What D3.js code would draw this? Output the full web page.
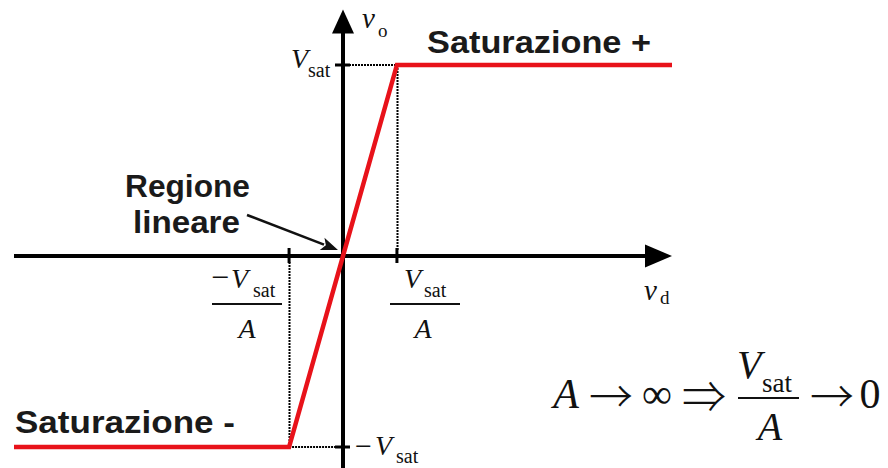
<!DOCTYPE html>
<html>
<head>
<meta charset="utf-8">
<script src="https://cdn.jsdelivr.net/npm/d3@7"></script>
<style>
  html, body { margin: 0; padding: 0; background: #fff; }
  svg { display: block; }
  .bold { font-family: "Liberation Sans", Arial, sans-serif; font-weight: bold; fill: #1a1a1a; }
  .math { font-family: "Liberation Serif", "Times New Roman", serif; fill: #111; }
  .sym { font-family: "Noto Sans CJK JP", "DejaVu Serif", serif; fill: #111; font-weight: 300; }
  .it { font-style: italic; }
</style>
</head>
<body>
<svg id="chart" width="888" height="468"></svg>
<script>
// Transfer characteristic of an op-amp: v_o versus v_d (v_d in units of Vsat/A, v_o in units of Vsat)
const vd = [-6.1, -1, 1, 6.1];
const vo = [-1, -1, 1, 1];
// Tick positions on both axes
const xTicks = [-1, 1];
const yTicks = [-1, 1];
// Axis extents (same units as the data)
const xExtent = [-6.1, 6.1];
const yExtent = [-1.11, 1.29];

const svg = d3.select("#chart");

const x = d3.scaleLinear().domain([-6.1, 6.1]).range([14, 672]);
const y = d3.scaleLinear().domain([-1, 1]).range([447, 65]);

const x0 = x(0), y0 = y(0);
const px = v => Math.round(v) + 0.5;

// dotted guide lines from the corners of the characteristic to the axes
function dotted(x1, y1, x2, y2) {
  svg.append("line").attr("x1", x1).attr("y1", y1).attr("x2", x2).attr("y2", y2)
    .attr("stroke", "#000").attr("stroke-width", 2).attr("stroke-dasharray", "2,1");
}
dotted(px(x(1)), y(1), px(x(1)), y0 - 6);
dotted(px(x(-1)), y0 + 6, px(x(-1)), y(-1));
dotted(x0, Math.round(y(1)), x(1), Math.round(y(1)));
dotted(x(-1), Math.round(y(-1)), x0, Math.round(y(-1)));

// axes with arrowheads
const axW = 4;
svg.append("line").attr("x1", x(xExtent[0])).attr("y1", y0)
  .attr("x2", x(xExtent[1]) - 24).attr("y2", y0)
  .attr("stroke", "#000").attr("stroke-width", axW);
svg.append("path")
  .attr("d", `M${x(xExtent[1])},${y0} L${x(xExtent[1]) - 27},${y0 - 11.5} L${x(xExtent[1]) - 27},${y0 + 11.5} Z`)
  .attr("fill", "#000");

svg.append("line").attr("x1", x0).attr("y1", y(yExtent[0]))
  .attr("x2", x0).attr("y2", y(yExtent[1]) + 22)
  .attr("stroke", "#000").attr("stroke-width", axW);
svg.append("path")
  .attr("d", `M${x0},${y(yExtent[1])} L${x0 - 11},${y(yExtent[1]) + 24} L${x0 + 11},${y(yExtent[1]) + 24} Z`)
  .attr("fill", "#000");

// tick marks
svg.selectAll(".xt").data(xTicks).enter().append("line")
  .attr("x1", d => x(d)).attr("x2", d => x(d))
  .attr("y1", y0 - 8).attr("y2", y0 + 7)
  .attr("stroke", "#000").attr("stroke-width", 3);
svg.selectAll(".yt").data(yTicks).enter().append("line")
  .attr("y1", d => y(d)).attr("y2", d => y(d))
  .attr("x1", x0 - 8).attr("x2", x0 + 7)
  .attr("stroke", "#000").attr("stroke-width", 3);

// characteristic
const line = d3.line().x((d, i) => x(vd[i])).y((d, i) => y(vo[i]));
svg.append("path").datum(vd).attr("d", line)
  .attr("fill", "none").attr("stroke", "#e8121a").attr("stroke-width", 4.5)
  .attr("stroke-linejoin", "miter");

// bold labels
function bold(txt, xx, yy, len) {
  const t = svg.append("text").attr("class", "bold").attr("x", xx).attr("y", yy)
    .attr("font-size", 31).text(txt);
  if (len) t.attr("textLength", len).attr("lengthAdjust", "spacingAndGlyphs");
  return t;
}
bold("Saturazione +", 427, 53, 224);
bold("Saturazione -", 15, 433, 220);
bold("Regione", 125, 197, 125);
bold("lineare", 133, 233, 107);

// pointer to the linear region
{
  const sx = 247, sy = 215, tx = 338, ty = 250;
  const ang = Math.atan2(ty - sy, tx - sx);
  const L = 17, Wd = 6.5;
  const bx = tx - L * Math.cos(ang), by = ty - L * Math.sin(ang);
  svg.append("line").attr("x1", sx).attr("y1", sy).attr("x2", bx + 2 * Math.cos(ang)).attr("y2", by + 2 * Math.sin(ang))
    .attr("stroke", "#111").attr("stroke-width", 2.6);
  const nx = -Math.sin(ang), ny = Math.cos(ang);
  svg.append("path")
    .attr("d", `M${tx},${ty} L${bx + nx * Wd},${by + ny * Wd} L${bx + 4 * Math.cos(ang)},${by + 4 * Math.sin(ang)} L${bx - nx * Wd},${by - ny * Wd} Z`)
    .attr("fill", "#111");
}

// math labels
function m(txt, xx, yy, size, italic, anchor, cls) {
  const t = svg.append("text").attr("class", (cls || "math") + (italic ? " it" : ""))
    .attr("x", xx).attr("y", yy).attr("font-size", size).text(txt);
  if (anchor) t.attr("text-anchor", anchor);
  return t;
}
// v_o
m("v", 362, 28, 29, true);
m("o", 378, 37, 19, false);
// v_d
m("v", 644, 300, 29, true);
m("d", 660, 304, 19, false);
// V_sat on the vertical axis
m("V", 291, 68, 28, true);
m("sat", 308, 77, 20, false);
// -V_sat
m("\u2212", 355, 456, 30, false);
m("V", 375, 455, 28, true);
m("sat", 396, 463, 20, false);
// -Vsat/A
m("\u2212", 211, 288, 32, false);
m("V", 231, 288, 28, true);
m("sat", 253, 297, 20, false);
svg.append("line").attr("x1", 212).attr("x2", 282).attr("y1", 304).attr("y2", 304)
  .attr("stroke", "#111").attr("stroke-width", 2.2);
m("A", 247, 338, 28, true, "middle");
// Vsat/A
m("V", 404, 288, 28, true);
m("sat", 424, 297, 20, false);
svg.append("line").attr("x1", 390).attr("x2", 460).attr("y1", 304).attr("y2", 304)
  .attr("stroke", "#111").attr("stroke-width", 2.2);
m("A", 423, 338, 28, true, "middle");

// limit statement
m("A", 566, 408, 42, true, "middle");
m("\u2192", 611, 413, 44, false, "middle", "sym");
m("\u221E", 657, 408, 42, false, "middle");
m("\u21D2", 704, 413, 44, false, "middle", "sym");
m("V", 737, 378, 40, true);
m("sat", 762, 392, 27, false);
svg.append("line").attr("x1", 738).attr("x2", 799).attr("y1", 398).attr("y2", 398)
  .attr("stroke", "#111").attr("stroke-width", 2.2);
m("A", 770, 440, 40, true, "middle");
m("\u2192", 832, 413, 44, false, "middle", "sym");
m("0", 870, 408, 42, false, "middle");
</script>
</body>
</html>
